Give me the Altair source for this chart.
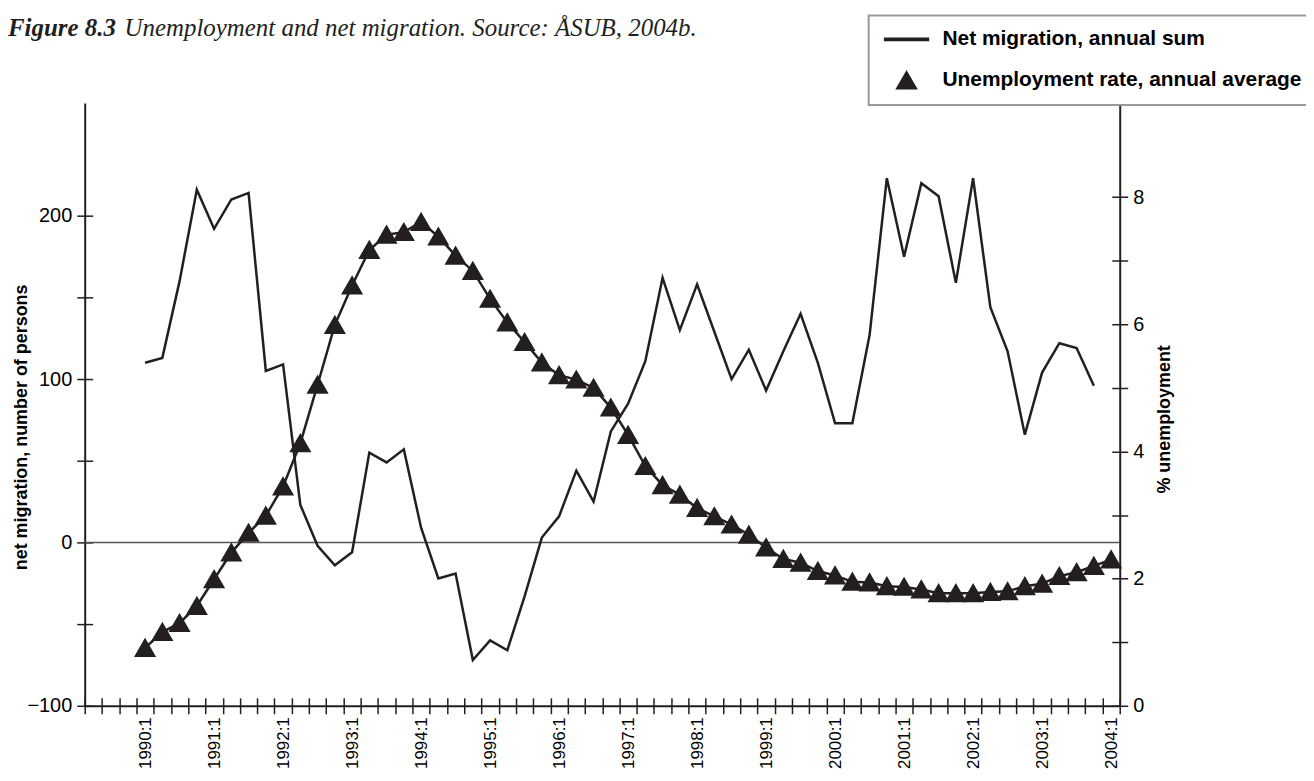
import altair as alt
import pandas as pd

# ---------------- data ----------------
YEARS = list(range(1989, 2005))
QUARTERS = [f"{y}:{q}" for y in YEARS for q in (1, 2, 3, 4)]
QUARTERS = QUARTERS[QUARTERS.index("1989:2"):QUARTERS.index("2004:1") + 1]

NET_MIGRATION = [110, 113, 160, 216, 192, 210, 214, 105, 109, 23,
                 -2, -14, -6, 55, 49, 57, 9, -22, -19, -72,
                 -60, -66, -33, 3, 16, 44, 25, 68, 85, 111,
                 162, 130, 158, 129, 100, 118, 93, 117, 140, 110,
                 73, 73, 127, 223, 175, 220, 212, 159, 223, 144,
                 117, 66, 104, 122, 119, 96]
UNEMPLOYMENT = [0.91, 1.16, 1.30, 1.57, 1.99, 2.41, 2.72, 2.99, 3.45, 4.13,
                5.05, 5.99, 6.61, 7.17, 7.41, 7.45, 7.61, 7.38, 7.08, 6.84,
                6.40, 6.03, 5.72, 5.40, 5.20, 5.13, 5.00, 4.69, 4.26, 3.77,
                3.47, 3.32, 3.11, 2.98, 2.85, 2.69, 2.49, 2.31, 2.25, 2.12,
                2.05, 1.95, 1.94, 1.88, 1.87, 1.83, 1.77, 1.77, 1.77, 1.79,
                1.80, 1.88, 1.92, 2.04, 2.10, 2.20, 2.30]

START = QUARTERS.index("1990:1")
NM_Q = QUARTERS[START:START + len(NET_MIGRATION)]
UE_Q = QUARTERS[START:START + len(UNEMPLOYMENT)]

NM_LABEL = "Net migration, annual sum"
UE_LABEL = "Unemployment rate, annual average"

LEFT_TICKS = [-100, -50, 0, 50, 100, 150, 200]
RIGHT_TICKS = [0, 1, 2, 3, 4, 5, 6, 7, 8]
LEFT_DOMAIN = [-100, 269]
RIGHT_DOMAIN = [0, 9.48]

nm_df = pd.DataFrame({"quarter": NM_Q, "value": NET_MIGRATION})
ue_df = pd.DataFrame({"quarter": UE_Q, "value": UNEMPLOYMENT, "series": UE_LABEL})
zero_df = pd.DataFrame({"v": [0]})
one_df = pd.DataFrame({"t": [0]})

# ---------------- style ----------------
INK = "#231f20"
FONT = "Liberation Sans"
W, H = 1039, 605
TICK = 8
LINE_PATH = "M-2.2,-0.12L2.2,-0.12L2.2,0.12L-2.2,0.12Z"

x_scale = alt.Scale(type="band", domain=QUARTERS, paddingInner=0, paddingOuter=0)
yl_scale = alt.Scale(domain=LEFT_DOMAIN, nice=False, zero=False)
yr_scale = alt.Scale(domain=RIGHT_DOMAIN, nice=False, zero=False)

x_axis = alt.Axis(
    orient="bottom", title=None, tickBand="extent", labelAngle=270, labelAlign="right",
    labelBaseline="middle", labelPadding=3, labelOverlap=False,
    labelExpr="slice(datum.label, -2) == ':1' ? datum.label : ''",
    tickSize=TICK, tickColor=INK, tickWidth=1.5, domainColor=INK, domainWidth=2,
    labelFont=FONT, labelFontSize=17, labelColor="black", grid=False)

x_inner = alt.Axis(
    orient="bottom", title=None, tickBand="extent", labels=False, domain=False,
    offset=-TICK, tickSize=TICK, tickColor=INK, tickWidth=1.5, grid=False)

left_axis = alt.Axis(
    title="net migration, number of persons", values=LEFT_TICKS,
    labelExpr="datum.value % 100 == 0 ? datum.label : ''",
    tickSize=TICK, tickColor=INK, tickWidth=1.5, domainColor=INK, domainWidth=2,
    labelFont=FONT, labelFontSize=20, labelColor="black", labelPadding=5,
    titleFont=FONT, titleFontSize=18, titleFontWeight="bold", titleColor="black",
    titleAlign="center", titleBaseline="middle", titleX=-63, titleY=325, grid=False)

left_inner = alt.Axis(
    title=None, values=LEFT_TICKS, labels=False, domain=False, offset=-TICK,
    tickSize=TICK, tickColor=INK, tickWidth=1.5, grid=False)

right_axis = alt.Axis(
    orient="right", title="% unemployment", values=RIGHT_TICKS,
    labelExpr="datum.value % 2 == 0 ? datum.label : ''",
    tickSize=TICK, tickColor=INK, tickWidth=1.5, domainColor=INK, domainWidth=2,
    labelFont=FONT, labelFontSize=20, labelColor="black", labelPadding=5,
    titleFont=FONT, titleFontSize=18, titleFontWeight="bold", titleColor="black",
    titleAngle=270, titleAlign="center", titleBaseline="middle",
    titleX=45, titleY=317, grid=False)

right_inner = alt.Axis(
    orient="right", title=None, values=RIGHT_TICKS, labels=False, domain=False,
    offset=-TICK, tickSize=TICK, tickColor=INK, tickWidth=1.5, grid=False)

legend = alt.Legend(
    title=None, orient="none", legendX=787, legendY=-88, direction="vertical",
    padding=13, strokeColor="#999999", fillColor="white", cornerRadius=0,
    labelFont=FONT, labelFontSize=21, labelFontWeight="bold", labelColor="black",
    labelLimit=800, labelOffset=25, symbolOffset=14, symbolSize=400, rowPadding=19,
    symbolFillColor=INK)

# ---------------- layers ----------------
zero_rule = alt.Chart(zero_df).mark_rule(color="#555555", strokeWidth=1.5).encode(
    y=alt.Y("v:Q", scale=yl_scale, axis=left_axis))

nm_line = alt.Chart(nm_df).mark_line(color=INK, strokeWidth=2.5).encode(
    x=alt.X("quarter:O", scale=x_scale, axis=x_axis, sort=QUARTERS),
    y=alt.Y("value:Q", scale=yl_scale, axis=left_axis))

nm_layer = alt.layer(zero_rule, nm_line)

ue_line = alt.Chart(ue_df).mark_line(color=INK, strokeWidth=2.5).encode(
    x=alt.X("quarter:O", scale=x_scale, axis=None, sort=QUARTERS),
    y=alt.Y("value:Q", scale=yr_scale, axis=right_axis))

ue_pts = alt.Chart(ue_df).mark_point(
    filled=True, size=320, color=INK, stroke=INK, strokeWidth=2.5, opacity=1).encode(
    x=alt.X("quarter:O", scale=x_scale, axis=None, sort=QUARTERS),
    y=alt.Y("value:Q", scale=yr_scale, axis=right_axis),
    shape=alt.Shape("series:N", scale=alt.Scale(domain=[NM_LABEL, UE_LABEL],
                                                range=[LINE_PATH, "triangle-up"]),
                    legend=legend))

ue_layer = alt.layer(ue_line, ue_pts)

inner_l = alt.Chart(nm_df).mark_point(opacity=0).encode(
    x=alt.X("quarter:O", scale=x_scale, axis=x_inner, sort=QUARTERS),
    y=alt.Y("value:Q", scale=yl_scale, axis=left_inner))

inner_r = alt.Chart(ue_df).mark_point(opacity=0).encode(
    x=alt.X("quarter:O", scale=x_scale, axis=None, sort=QUARTERS),
    y=alt.Y("value:Q", scale=yr_scale, axis=right_inner))

title_bold = alt.Chart(one_df).mark_text(
    text="Figure 8.3", font="Liberation Serif", fontSize=25, fontStyle="italic",
    fontWeight="bold", align="left", baseline="alphabetic", color=INK).encode(
    x=alt.value(-77), y=alt.value(-67))

title_rest = alt.Chart(one_df).mark_text(
    text="Unemployment and net migration. Source: ÅSUB, 2004b.", font="Liberation Serif",
    fontSize=25, fontStyle="italic", align="left", baseline="alphabetic", color=INK).encode(
    x=alt.value(40), y=alt.value(-67))

chart = alt.layer(nm_layer, ue_layer, inner_l, inner_r, title_bold, title_rest).resolve_scale(
    y="independent").resolve_axis(x="independent", y="independent").properties(
    width=W, height=H,
    padding={"left": 77, "top": 94, "right": 187, "bottom": 64},
    autosize=alt.AutoSizeParams(type="none"),
    background="white",
).configure_view(strokeWidth=0).configure_legend(strokeWidth=2)

chart.save("out.html", embed_options={"renderer": "svg", "actions": False})
